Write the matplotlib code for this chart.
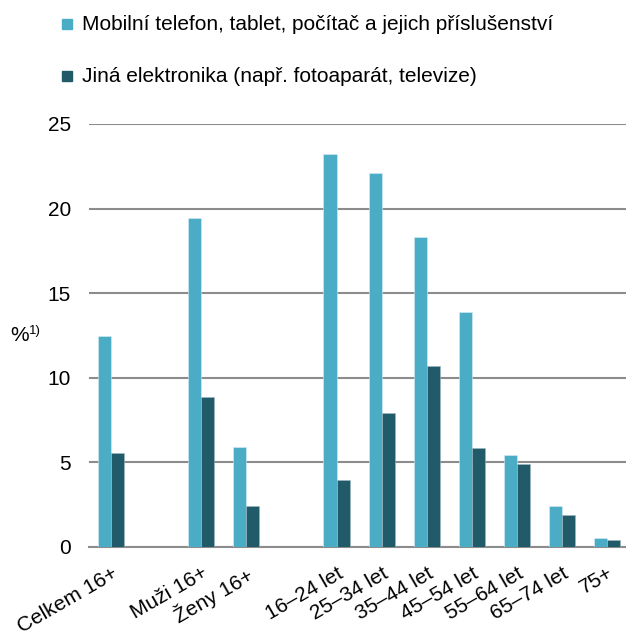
import numpy as np
import matplotlib.pyplot as plt
from matplotlib.patches import Rectangle

plt.rcParams['font.family'] = ['Liberation Sans', 'DejaVu Sans']

categories = ["Celkem 16+", "", "Muži 16+", "Ženy 16+", "",
              "16–24 let", "25–34 let", "35–44 let", "45–54 let",
              "55–64 let", "65–74 let", "75+"]
mobil = [12.5, np.nan, 19.45, 5.9, np.nan, 23.2, 22.1, 18.35, 13.87, 5.46, 2.44, 0.55]
jina = [5.55, np.nan, 8.87, 2.4, np.nan, 3.98, 7.9, 10.7, 5.87, 4.9, 1.87, 0.4]
legend_labels = ["Mobilní telefon, tablet, počítač a jejich příslušenství",
                 "Jiná elektronika (např. fotoaparát, televize)"]
colors = ["#4BACC6", "#215A69"]

fig = plt.figure(figsize=(6.26, 6.32), dpi=100)
ax = fig.add_axes([89/626, 85/632, 1 - 89/626, (547-124)/632])

x = np.arange(len(categories))
w = 0.29
ax.bar(x - w/2, mobil, w, color=colors[0], edgecolor="#d8eef4", linewidth=0.4, zorder=3)
ax.bar(x + w/2, jina, w, color=colors[1], edgecolor="#9fb8bf", linewidth=0.4, zorder=3)

ax.set_xlim(-0.49, 11.42)
ax.set_ylim(0, 25)
ax.set_yticks([0, 5, 10, 15, 20, 25])
ax.yaxis.grid(True, color="#8c8c8c", linewidth=1.5, zorder=0)
ax.set_axisbelow(True)
for s in ["top", "right", "left"]:
    ax.spines[s].set_visible(False)
ax.spines["bottom"].set_color("#8c8c8c")
ax.spines["bottom"].set_linewidth(1.5)
ax.tick_params(axis="y", length=0, pad=13, labelsize=15)
ax.tick_params(axis="x", length=0, pad=12, labelsize=15)

ticks = [i for i, c in enumerate(categories) if c]
ax.set_xticks(ticks)
ax.set_xticklabels([categories[i] for i in ticks], rotation=30, ha="right",
                   rotation_mode="anchor")

# y label "%1)"
fig.text(10/626, 1 - 335/632, "%", fontsize=15, va="center")
fig.text(29/626, 1 - 331/632, "1)", fontsize=9.5, va="center")

# legend drawn by hand
for i, (lab, c) in enumerate(zip(legend_labels, colors)):
    yc = 1 - (24 + 52*i)/632
    fig.patches.append(Rectangle((62/626, yc - 5/632), 10/626, 10/632,
                                 transform=fig.transFigure, color=c))
    fig.text(82/626, yc, lab, fontsize=15, va="center")

fig.savefig("out.png", dpi=100)
